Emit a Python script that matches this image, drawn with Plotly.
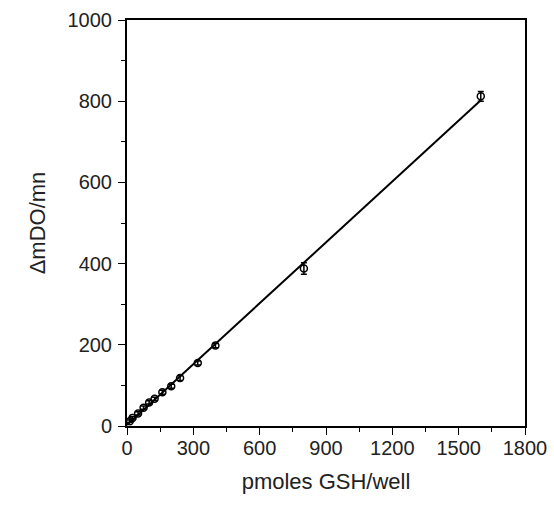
import numpy as np
import plotly.graph_objects as go

# data
gsh_pmol = [12.5, 25, 50, 75, 100, 125, 160, 200, 240, 320, 400, 800, 1600]
delta_mdo = [12, 20, 31, 45, 58, 67, 83, 98, 118, 155, 198, 388, 812]
err = [3, 3, 4, 4, 4, 4, 5, 5, 6, 5, 5, 14, 12]

x_ticks = [0, 300, 600, 900, 1200, 1500, 1800]
y_ticks = [0, 200, 400, 600, 800, 1000]

# linear regression line
b, a = np.polyfit(gsh_pmol, delta_mdo, 1)
line_x = [0, max(gsh_pmol)]
line_y = [a + b * v for v in line_x]

fig = go.Figure()
fig.add_trace(go.Scatter(
    x=line_x, y=line_y, mode="lines",
    line=dict(color="black", width=2), showlegend=False, hoverinfo="skip"))
fig.add_trace(go.Scatter(
    x=gsh_pmol, y=delta_mdo, mode="markers",
    marker=dict(symbol="circle-open", size=7, color="black", line=dict(width=1.5)),
    error_y=dict(type="data", array=err, visible=True, color="black", thickness=1.5, width=3),
    showlegend=False))

font = "Liberation Sans, Arial, Helvetica, sans-serif"
fig.update_layout(
    width=554, height=506,
    margin=dict(l=127, r=29, t=20, b=80),
    paper_bgcolor="white", plot_bgcolor="white",
    font=dict(family=font, size=20, color="#222"),
    xaxis=dict(
        range=[0, 1800], tickvals=x_ticks, ticktext=[str(v) for v in x_ticks],
        showgrid=False, zeroline=False, automargin=False,
        showline=True, linecolor="black", linewidth=2, mirror=True,
        ticks="outside", ticklen=7, tickwidth=1.2, tickcolor="black",
        minor=dict(tickvals=[150, 450, 750, 1050, 1350, 1650], ticks="outside", ticklen=4, tickcolor="black"),
        title=dict(text="pmoles GSH/well", font=dict(size=22), standoff=16),
        tickfont=dict(size=20), ticklabelstandoff=-4,
    ),
    yaxis=dict(
        range=[0, 1000], tickvals=y_ticks, ticktext=[str(v) for v in y_ticks],
        showgrid=False, zeroline=False, automargin=False,
        showline=True, linecolor="black", linewidth=2, mirror=True,
        ticks="outside", ticklen=7, tickwidth=1.2, tickcolor="black",
        minor=dict(tickvals=[100, 300, 500, 700, 900], ticks="outside", ticklen=4, tickcolor="black"),
        title=dict(text="ΔmDO/mn", font=dict(size=22), standoff=16),
        tickfont=dict(size=20), ticklabelstandoff=2,
    ),
)

fig.write_html("out.html", config={"displayModeBar": False},
               post_script="document.body.style.margin='0';")
